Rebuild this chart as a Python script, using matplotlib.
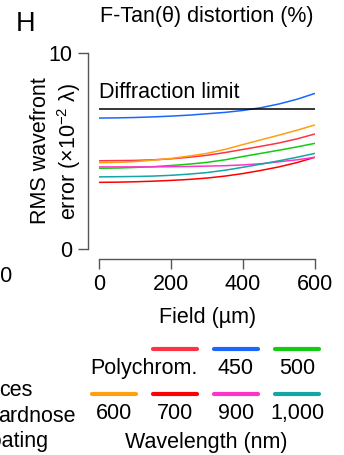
import matplotlib
matplotlib.use('Agg')
import matplotlib.pyplot as plt

plt.rcParams['font.family'] = ['Liberation Sans', 'DejaVu Sans']
plt.rcParams['mathtext.fontset'] = 'custom'
plt.rcParams['mathtext.rm'] = 'Liberation Sans'
plt.rcParams['font.size'] = 15.5

# values (RMS wavefront error, x1e-2 lambda)
field = [0, 50, 100, 150, 200, 250, 300, 350, 400, 450, 500, 550, 600]
polychrom = [4.50, 4.51, 4.52, 4.55, 4.60, 4.68, 4.78, 4.92, 5.08, 5.24, 5.41, 5.62, 5.87]
wl_450 = [6.68, 6.69, 6.71, 6.74, 6.78, 6.83, 6.90, 6.97, 7.07, 7.21, 7.40, 7.64, 7.94]
wl_500 = [4.12, 4.13, 4.16, 4.20, 4.26, 4.33, 4.42, 4.55, 4.72, 4.88, 5.04, 5.21, 5.39]
wl_600 = [4.40, 4.42, 4.46, 4.53, 4.62, 4.74, 4.88, 5.08, 5.33, 5.57, 5.81, 6.06, 6.33]
wl_700 = [3.40, 3.41, 3.43, 3.46, 3.50, 3.55, 3.62, 3.72, 3.85, 4.01, 4.19, 4.41, 4.68]
wl_900 = [4.19, 4.19, 4.19, 4.19, 4.20, 4.21, 4.23, 4.25, 4.29, 4.35, 4.45, 4.55, 4.68]
wl_1000 = [3.68, 3.69, 3.70, 3.72, 3.76, 3.82, 3.90, 4.02, 4.17, 4.33, 4.50, 4.68, 4.88]
diffraction_limit = 7.14

series_labels = ['Polychrom.', '450', '500', '600', '700', '900', '1,000']
series_values = [polychrom, wl_450, wl_500, wl_600, wl_700, wl_900, wl_1000]
series_colors = ['#ff3344', '#1a66ff', '#11cc11', '#ffa010', '#ff0000', '#ff33cc', '#14a5a5']

x_ticks = [0, 200, 400, 600]
y_ticks = [0, 10]

W, H = 344, 455
fig = plt.figure(figsize=(W / 100, H / 100), dpi=100)
ax = fig.add_axes([99 / W, 1 - 249 / H, 216 / W, 196 / H])

for vals, col in zip(series_values, series_colors):
    ax.plot(field, vals, color=col, lw=1.1, solid_capstyle='butt')
ax.plot([field[0], field[-1]], [diffraction_limit, diffraction_limit], color='black', lw=1.1)
ax.text(0, 7.72, 'Diffraction limit', ha='left', va='baseline')

ax.set_xlim(0, 600)
ax.set_ylim(0, 10)
ax.set_xticks(x_ticks)
ax.set_yticks(y_ticks)
for side in ['top', 'right']:
    ax.spines[side].set_visible(False)
ax.spines['left'].set_position(('outward', 8))
ax.spines['bottom'].set_position(('outward', 7.2))
ax.spines['left'].set_bounds(0, 10)
ax.spines['bottom'].set_bounds(0, 600)
for side in ['left', 'bottom']:
    ax.spines[side].set_color('#555555')
    ax.spines[side].set_linewidth(1.0)
ax.tick_params(direction='out', length=7, width=1.0, color='#555555', labelsize=15.5, pad=4)
ax.patch.set_alpha(0)

# overlay in pixel coordinates for the surrounding text and legend
ov = fig.add_axes([0, 0, 1, 1])
ov.set_xlim(0, W)
ov.set_ylim(H, 0)
ov.axis('off')

ov.text(16, 30.7, 'H', fontsize=19.5, ha='left', va='baseline')
ov.text(207, 22, 'F-Tan(θ) distortion (%)', ha='center', va='baseline')
ov.text(56.5, 151, 'RMS wavefront\nerror (×10$^{-2}$ λ)', rotation=90,
        ha='center', va='center', multialignment='center', linespacing=1.2)
ov.text(207.5, 322.7, 'Field (µm)', ha='center', va='baseline')

# pieces of the neighbouring panel cut by the left edge
ov.text(13, 281.7, '600', ha='right', va='baseline')
ov.text(33, 396, 'ces', ha='right', va='baseline')
ov.text(76, 422, 'ardnose', ha='right', va='baseline')
ov.text(48, 447, 'coating', ha='right', va='baseline')

# legend: polychrom + 450 + 500 on first row, rest on second row
col_x = [114, 175, 236, 297]
legend_cols = [1, 2, 3, 0, 1, 2, 3]
legend_rows = [0, 0, 0, 1, 1, 1, 1]
row_line_y = [349, 394]
row_text_y = [374, 419.3]
for lab, col, c, r in zip(series_labels, series_colors, legend_cols, legend_rows):
    cx = col_x[c]
    ov.plot([cx - 22, cx + 22], [row_line_y[r], row_line_y[r]], color=col, lw=3,
            solid_capstyle='round')
    if lab == 'Polychrom.':
        ov.text(cx + 23, row_text_y[r], lab, ha='right', va='baseline')
    else:
        ov.text(cx, row_text_y[r], lab, ha='center', va='baseline')
ov.text(206.7, 448, 'Wavelength (nm)', ha='center', va='baseline')

fig.savefig('out.png', dpi=100)
